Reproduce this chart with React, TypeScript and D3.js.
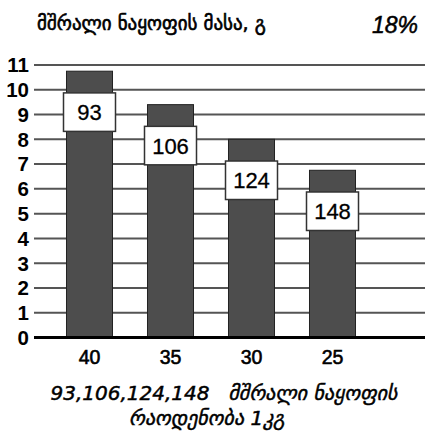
import { scaleBand, scaleLinear, range } from "d3";

const categories = ["40", "35", "30", "25"];
const values = [10.75, 9.4, 8.0, 6.75];
const boxLabels = ["93", "106", "124", "148"];
const yTicks = range(0, 12);
const title = "მშრალი ნაყოფის მასა, გ";
const percent = "18%";
const footer1 = "93,106,124,148   მშრალი ნაყოფის";
const footer2 = "რაოდენობა 1კგ";

const W = 430;
const H = 435;
const geo = "'DejaVu Sans', 'Noto Sans', sans-serif";
const num = "'Liberation Sans', Arial, sans-serif";

export default function App() {
  document.body.style.margin = "0";

  const x = scaleBand<string>()
    .domain(categories)
    .range([49, 373])
    .paddingInner(0.432)
    .paddingOuter(0.216);
  const y = scaleLinear().domain([0, 11]).range([337.5, 65]);

  const gridLeft = 34;
  const gridRight = 425;
  const boxW = 52;
  const boxH = 38.5;

  return (
    <svg width={W} height={H} style={{ display: "block", background: "#fff" }}>
      {/* title */}
      <text x={37} y={30} fontFamily={geo} fontSize={19} fill="#000" stroke="#000" strokeWidth={0.6}>
        {title}
      </text>
      <text x={395} y={33} fontFamily={num} fontSize={23} fontStyle="italic" textAnchor="middle" fill="#000" stroke="#000" strokeWidth={0.5}>
        {percent}
      </text>

      {/* grid */}
      {yTicks.slice(1).map((t) => (
        <line key={t} x1={gridLeft} x2={gridRight} y1={y(t)} y2={y(t)} stroke="#555" strokeWidth={2} />
      ))}

      {/* y ticks */}
      {yTicks.map((t) => (
        <text
          key={t}
          x={29}
          y={y(t)}
          dy="0.36em"
          textAnchor="end"
          fontFamily={num}
          fontWeight="bold"
          fontSize={20.5}
          fill="#000"
        >
          {t}
        </text>
      ))}

      {/* bars */}
      {categories.map((c, i) => (
        <rect
          key={c}
          x={x(c)}
          y={y(values[i])}
          width={x.bandwidth()}
          height={y(0) - y(values[i])}
          fill="#4d4d4d"
          stroke="#222"
          strokeWidth={1}
        />
      ))}

      {/* baseline */}
      <line x1={gridLeft} x2={gridRight} y1={y(0)} y2={y(0)} stroke="#000" strokeWidth={3} />

      {/* value boxes */}
      {categories.map((c, i) => {
        const cx = (x(c) ?? 0) + x.bandwidth() / 2;
        const top = y(values[i]) + 21.7;
        return (
          <g key={c}>
            <rect x={cx - boxW / 2} y={top} width={boxW} height={boxH} fill="#fff" stroke="#333" strokeWidth={1.5} />
            <text
              x={cx}
              y={top + boxH / 2}
              dy="0.36em"
              textAnchor="middle"
              fontFamily={num}
              fontSize={22}
              fill="#000"
              stroke="#000"
              strokeWidth={0.3}
            >
              {boxLabels[i]}
            </text>
          </g>
        );
      })}

      {/* x labels */}
      {categories.map((c) => (
        <text
          key={c}
          x={(x(c) ?? 0) + x.bandwidth() / 2}
          y={364}
          textAnchor="middle"
          fontFamily={num}
          fontSize={19.5}
          fill="#000"
          stroke="#000"
          strokeWidth={0.6}
        >
          {c}
        </text>
      ))}

      {/* footer */}
      <text x={224} y={400} textAnchor="middle" fontFamily={geo} fontStyle="italic" fontSize={20} fill="#000" stroke="#000" strokeWidth={0.5} style={{ whiteSpace: "pre" }}>
        {footer1}
      </text>
      <text x={207} y={425} textAnchor="middle" fontFamily={geo} fontStyle="italic" fontSize={20} fill="#000" stroke="#000" strokeWidth={0.5}>
        {footer2}
      </text>
    </svg>
  );
}
